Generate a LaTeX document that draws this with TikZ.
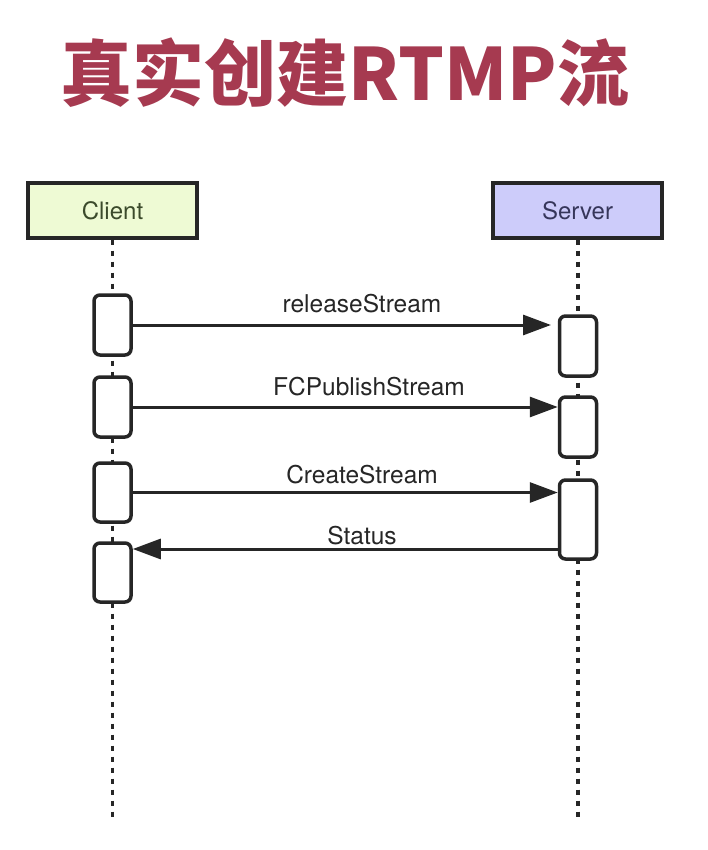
\documentclass[tikz,border=0pt]{standalone}
\usepackage{fontspec}
\setmainfont{TeX Gyre Heros}
\newfontfamily\cjk{Noto Sans CJK SC}
\usetikzlibrary{arrows.meta}
\definecolor{titlered}{HTML}{A63A50}
\definecolor{clientfill}{HTML}{EEFAD4}
\definecolor{serverfill}{HTML}{CDCCFA}
\definecolor{clienttext}{HTML}{3B4A2B}
\definecolor{servertext}{HTML}{36365A}
\definecolor{ink}{HTML}{262626}
\tikzset{
  header/.style={draw=ink, line width=3.2pt, minimum width=169pt, minimum height=55pt, inner sep=0pt, font=\fontsize{24}{27}\selectfont},
  act/.style={draw=ink, fill=white, line width=3.5pt, rounded corners=6pt, minimum width=37pt, inner sep=0pt},
  life/.style={draw=ink, line width=3.2pt, dash pattern=on 5pt off 6pt},
  msg/.style={draw=ink, line width=3pt, -{Triangle[length=28pt,width=20pt]}},
  lbl/.style={font=\fontsize{24.5}{27}\selectfont, text=ink, inner sep=0pt},
}
\begin{document}
\begin{tikzpicture}[x=1pt,y=-1pt]
\useasboundingbox (0,0) rectangle (708,850);
\fill[white] (0,0) rectangle (708,850);
% title
\node[text=titlered, font=\cjk\bfseries\fontsize{72}{78}\selectfont, inner sep=0pt] (title) at (345,73) {真实创建RTMP流};
% headers
\node[header, fill=clientfill, text=clienttext] (client) at (112.5,210.5) {Client};
\node[header, fill=serverfill, text=servertext] (server) at (577.5,210.5) {Server};
% lifeline ends
\coordinate (cend) at (112.5,820);
\coordinate (send) at (578,820);
\draw[life] (client.south) -- (cend);
\draw[life] (server.south -| send) -- (send);
% activations client
\node[act, minimum height=60pt] (c1) at (112.5,325) {};
\node[act, minimum height=60pt] (c2) at (112.5,407) {};
\node[act, minimum height=59pt] (c3) at (112.5,492.5) {};
\node[act, minimum height=59pt] (c4) at (112.5,572.5) {};
% activations server
\node[act, minimum height=60pt] (s1) at (578,346) {};
\node[act, minimum height=60pt] (s2) at (578,427) {};
\node[act, minimum height=79pt] (s3) at (578,519.5) {};
% messages
\coordinate (rsend) at (551,325);
\draw[msg] (c1.east) -- (rsend);
\node[lbl] (l1) at (362,304) {releaseStream};
\draw[msg] (c2.east) -- (c2.east -| s2.west);
\node[lbl] (l2) at (369,387) {FCPublishStream};
\draw[msg] (c3.east) -- (c3.east -| s3.west);
\node[lbl] (l3) at (362,475) {CreateStream};
\draw[msg] ([yshift=-29.5pt]s3.west) -- ([yshift=-29.5pt]s3.west -| c4.east);
\node[lbl] (l4) at (362,536) {Status};
\end{tikzpicture}
\end{document}
